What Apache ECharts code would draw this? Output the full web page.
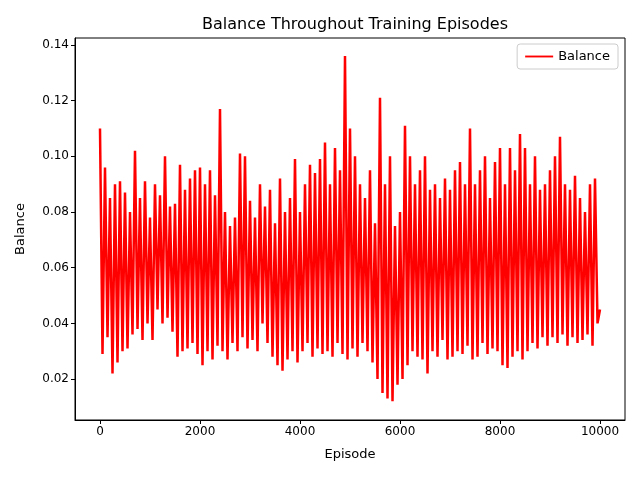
<!DOCTYPE html>
<html>
<head>
<meta charset="utf-8">
<script src="https://cdn.jsdelivr.net/npm/echarts@6/dist/echarts.min.js"></script>
<style>html,body{margin:0;padding:0;background:#fff}#chart{width:640px;height:480px}</style>
</head>
<body>
<div id="chart"></div>
<script>
// one value every 50 episodes (peaks and troughs)
const episodeStep = 50;
const balance = [
  0.110,0.029,0.096,0.035,0.085,0.022,0.090,0.026,0.091,0.030,
  0.087,0.031,0.080,0.036,0.102,0.038,0.085,0.034,0.091,0.040,
  0.078,0.034,0.090,0.045,0.086,0.040,0.100,0.042,0.082,0.037,
  0.083,0.028,0.097,0.030,0.088,0.031,0.092,0.033,0.095,0.029,
  0.096,0.025,0.090,0.030,0.095,0.027,0.086,0.032,0.117,0.030,
  0.080,0.027,0.075,0.033,0.078,0.030,0.101,0.035,0.100,0.031,
  0.084,0.034,0.078,0.030,0.090,0.040,0.082,0.033,0.088,0.028,
  0.076,0.025,0.092,0.023,0.080,0.027,0.085,0.030,0.099,0.026,
  0.080,0.030,0.090,0.033,0.097,0.028,0.094,0.031,0.099,0.029,
  0.105,0.030,0.090,0.028,0.103,0.033,0.095,0.029,0.136,0.027,
  0.110,0.031,0.100,0.028,0.090,0.033,0.085,0.030,0.095,0.026,
  0.076,0.020,0.121,0.015,0.090,0.013,0.100,0.012,0.075,0.018,
  0.080,0.020,0.111,0.025,0.100,0.030,0.090,0.028,0.095,0.027,
  0.100,0.022,0.088,0.030,0.090,0.028,0.085,0.034,0.092,0.027,
  0.088,0.028,0.095,0.030,0.098,0.029,0.090,0.032,0.110,0.027,
  0.090,0.028,0.095,0.033,0.100,0.029,0.085,0.031,0.098,0.030,
  0.103,0.025,0.090,0.024,0.103,0.028,0.095,0.030,0.108,0.027,
  0.103,0.030,0.090,0.033,0.100,0.031,0.088,0.035,0.090,0.032,
  0.095,0.035,0.100,0.033,0.107,0.036,0.090,0.032,0.088,0.035,
  0.093,0.033,0.085,0.034,0.080,0.036,0.090,0.032,0.092,0.040,
  0.045
];
const xTicks = [0, 2000, 4000, 6000, 8000, 10000];
const yTicks = [0.02, 0.04, 0.06, 0.08, 0.10, 0.12, 0.14];

const chart = echarts.init(document.getElementById("chart"), null, { renderer: "canvas" });
const font = "DejaVu Sans";
chart.setOption({
  animation: false,
  textStyle: { fontFamily: font },
  title: {
    text: "Balance Throughout Training Episodes",
    left: 350, top: 12, textAlign: "center",
    textStyle: { fontFamily: font, fontSize: 16, fontWeight: "normal", color: "#000" },
  },
  legend: {
    right: 22, top: 44,
    data: ["Balance"],
    icon: "path://M0,0 L30,0 L30,2 L0,2 Z",
    itemWidth: 28, itemHeight: 2,
    borderColor: "#ccc", borderWidth: 1, borderRadius: 3, padding: [6, 8],
    textStyle: { fontFamily: font, fontSize: 13, color: "#000" },
  },
  grid: { left: 75, right: 15, top: 38, bottom: 60, show: true, borderColor: "#000", borderWidth: 1 },
  xAxis: {
    type: "value", min: -500, max: 10500,
    name: "Episode", nameLocation: "middle", nameGap: 28,
    nameTextStyle: { fontFamily: font, fontSize: 13, color: "#000" },
    splitLine: { show: false },
    axisLine: { show: true, onZero: false, lineStyle: { color: "#000" } },
    axisTick: { show: true, customValues: xTicks, length: 4, lineStyle: { color: "#000" } },
    axisLabel: { customValues: xTicks, color: "#000", fontSize: 12, margin: 6, formatter: (v) => String(v) },
  },
  yAxis: {
    type: "value", min: 0.0053, max: 0.1425,
    name: "Balance", nameLocation: "middle", nameGap: 48,
    nameTextStyle: { fontFamily: font, fontSize: 13, color: "#000" },
    splitLine: { show: false },
    axisLine: { show: true, onZero: false, lineStyle: { color: "#000" } },
    axisTick: { show: true, customValues: yTicks, length: 4, lineStyle: { color: "#000" } },
    axisLabel: { customValues: yTicks, color: "#000", fontSize: 12, margin: 6, formatter: (v) => v.toFixed(2) },
  },
  series: [{
    name: "Balance", type: "line", showSymbol: false,
    color: "#ff0000", lineStyle: { width: 2.5, color: "#ff0000" },
    data: balance.map((v, i) => [i * episodeStep, v]),
  }],
});
</script>
</body>
</html>
